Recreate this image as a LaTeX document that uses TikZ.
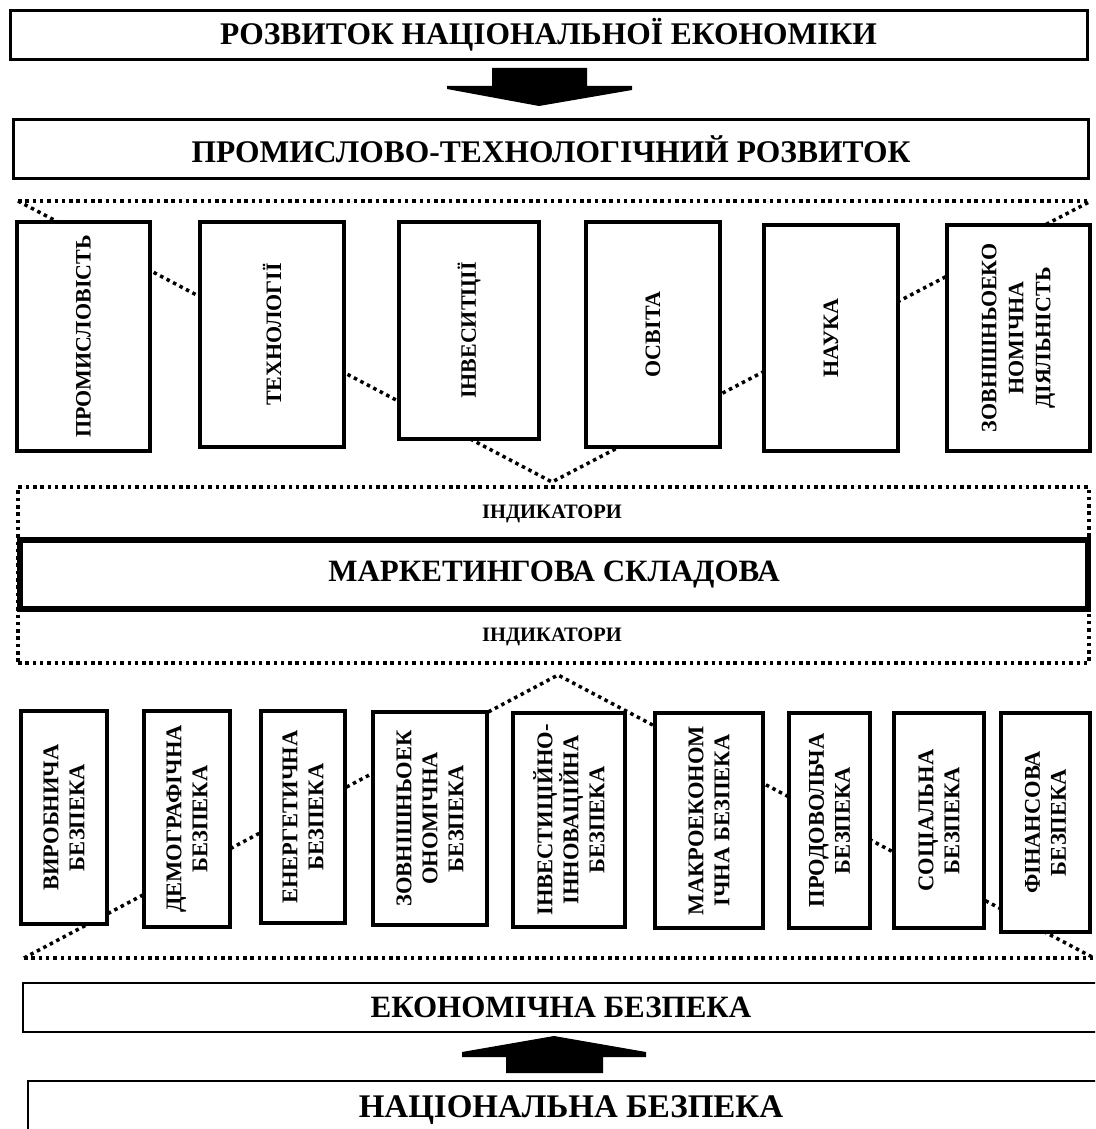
\documentclass[tikz,border=0pt]{standalone}
\usepackage{fontspec}
\setmainfont{Liberation Serif}
\begin{document}
\begin{tikzpicture}[x=1pt,y=-1pt]
\tikzset{
  dotline/.style={line width=3.5pt, dash pattern=on 3.5pt off 3.8pt},
  hdr/.style={draw, line width=3pt, fill=white, inner sep=0pt,
    font=\fontsize{31.5}{35}\selectfont\bfseries},
  ubox/.style={draw, line width=3.5pt, fill=white, rotate=90, align=center,
    inner sep=0pt, font=\fontsize{22}{27}\selectfont\bfseries},
  lbox/.style={draw, line width=4pt, fill=white, rotate=90, align=center,
    inner sep=0pt, font=\fontsize{22.5}{26}\selectfont\bfseries},
  indtxt/.style={inner sep=0pt, font=\fontsize{20.5}{24}\selectfont\bfseries},
  blockarrow/.style={fill=black, draw=none}
}
\useasboundingbox (0,0) rectangle (1095,1129);
\clip (0,0) rectangle (1095,1129);

% headers
\node[hdr, minimum width=1077pt, minimum height=49pt] (dev) at (548.5,35) {РОЗВИТОК НАЦІОНАЛЬНОЇ ЕКОНОМІКИ};
\node[hdr, minimum width=1075pt, minimum height=58.5pt] (ind) at (551,148.75) {ПРОМИСЛОВО-ТЕХНОЛОГІЧНИЙ РОЗВИТОК};
\fill[blockarrow] (492,68) -- (587,68) -- (587,86) -- (632,86) -- (632,90) -- (539,106)
  -- (447,89) -- (447,86) -- (492,86) -- cycle;

% upper dotted frame and V
\coordinate (uvl) at (18,201);
\coordinate (uvb) at (552,482);
\coordinate (uvr) at (1091,201);
\draw[dotline] (uvl) -- (uvr);
\draw[dotline] (uvl) -- (uvb) -- (uvr);

% upper boxes
\node[ubox, minimum width=229pt, minimum height=133pt] (u1) at (83.5,336.5) {ПРОМИСЛОВІСТЬ};
\node[ubox, minimum width=225pt, minimum height=144pt] (u2) at (272,334.5) {ТЕХНОЛОГІЇ};
\node[ubox, minimum width=217pt, minimum height=140pt] (u3) at (469,330.5) {ІНВЕСИТЦІЇ};
\node[ubox, minimum width=225pt, minimum height=134pt] (u4) at (653,334.5) {ОСВІТА};
\node[ubox, minimum width=226pt, minimum height=134pt] (u5) at (831,338) {НАУКА};
\node[ubox, minimum width=226pt, minimum height=143pt] (u6) at (1018.5,338) {ЗОВНІШНЬОЕКО\\НОМІЧНА\\ДІЯЛЬНІСТЬ};

% indicators frame and marketing box
\node[draw, dotline, minimum width=1071pt, minimum height=176pt, inner sep=0pt] (indframe) at (553.5,575) {};
\node[indtxt] (ind1) at (552,514) {ІНДИКАТОРИ};
\node[indtxt] (ind2) at (552,637) {ІНДИКАТОРИ};
\node[draw, line width=6pt, fill=white, inner sep=0pt, minimum width=1068pt, minimum height=69pt,
  font=\fontsize{31}{35}\selectfont\bfseries] (mkt) at (554,574.5) {МАРКЕТИНГОВА СКЛАДОВА};

% lower dotted frame and inverted V
\coordinate (lvl) at (24,958);
\coordinate (lvt) at (558,675);
\coordinate (lvr) at (1094,958);
\draw[dotline] (lvl) -- (lvr);
\draw[dotline] (lvl) -- (lvt) -- (lvr);

% lower boxes
\node[lbox, minimum width=213pt, minimum height=86pt] (l1) at (64,817.5) {ВИРОБНИЧА\\БЕЗПЕКА};
\node[lbox, minimum width=216pt, minimum height=86pt] (l2) at (187,819) {ДЕМОГРАФІЧНА\\БЕЗПЕКА};
\node[lbox, minimum width=212pt, minimum height=84pt] (l3) at (303,817) {ЕНЕРГЕТИЧНА\\БЕЗПЕКА};
\node[lbox, minimum width=213pt, minimum height=114pt] (l4) at (430,818.5) {ЗОВНІШНЬОЕК\\ОНОМІЧНА\\БЕЗПЕКА};
\node[lbox, minimum width=214pt, minimum height=112pt] (l5) at (569,820) {ІНВЕСТИЦІЙНО-\\ІННОВАЦІЙНА\\БЕЗПЕКА};
\node[lbox, minimum width=215pt, minimum height=108pt] (l6) at (709,820.5) {МАКРОЕКОНОМ\\ІЧНА БЕЗПЕКА};
\node[lbox, minimum width=215pt, minimum height=81pt] (l7) at (829.5,820.5) {ПРОДОВОЛЬЧА\\БЕЗПЕКА};
\node[lbox, minimum width=215pt, minimum height=90pt] (l8) at (939,820.5) {СОЦІАЛЬНА\\БЕЗПЕКА};
\node[lbox, minimum width=219pt, minimum height=89pt] (l9) at (1045.5,822.5) {ФІНАНСОВА\\БЕЗПЕКА};

% bottom headers
\node[hdr, line width=2.5pt, minimum width=1076pt, minimum height=49pt,
  font=\fontsize{31}{35}\selectfont\bfseries] (eco) at (561,1007.5) {ЕКОНОМІЧНА БЕЗПЕКА};
\node[hdr, line width=2.5pt, minimum width=1086pt, minimum height=59pt,
  font=\fontsize{33}{37}\selectfont\bfseries] (nat) at (571,1110.5) {НАЦІОНАЛЬНА БЕЗПЕКА};
\fill[blockarrow] (506,1073) -- (506,1057) -- (462,1057) -- (462,1052) -- (554,1036)
  -- (646,1052) -- (646,1057) -- (603,1057) -- (603,1073) -- cycle;
\end{tikzpicture}
\end{document}
